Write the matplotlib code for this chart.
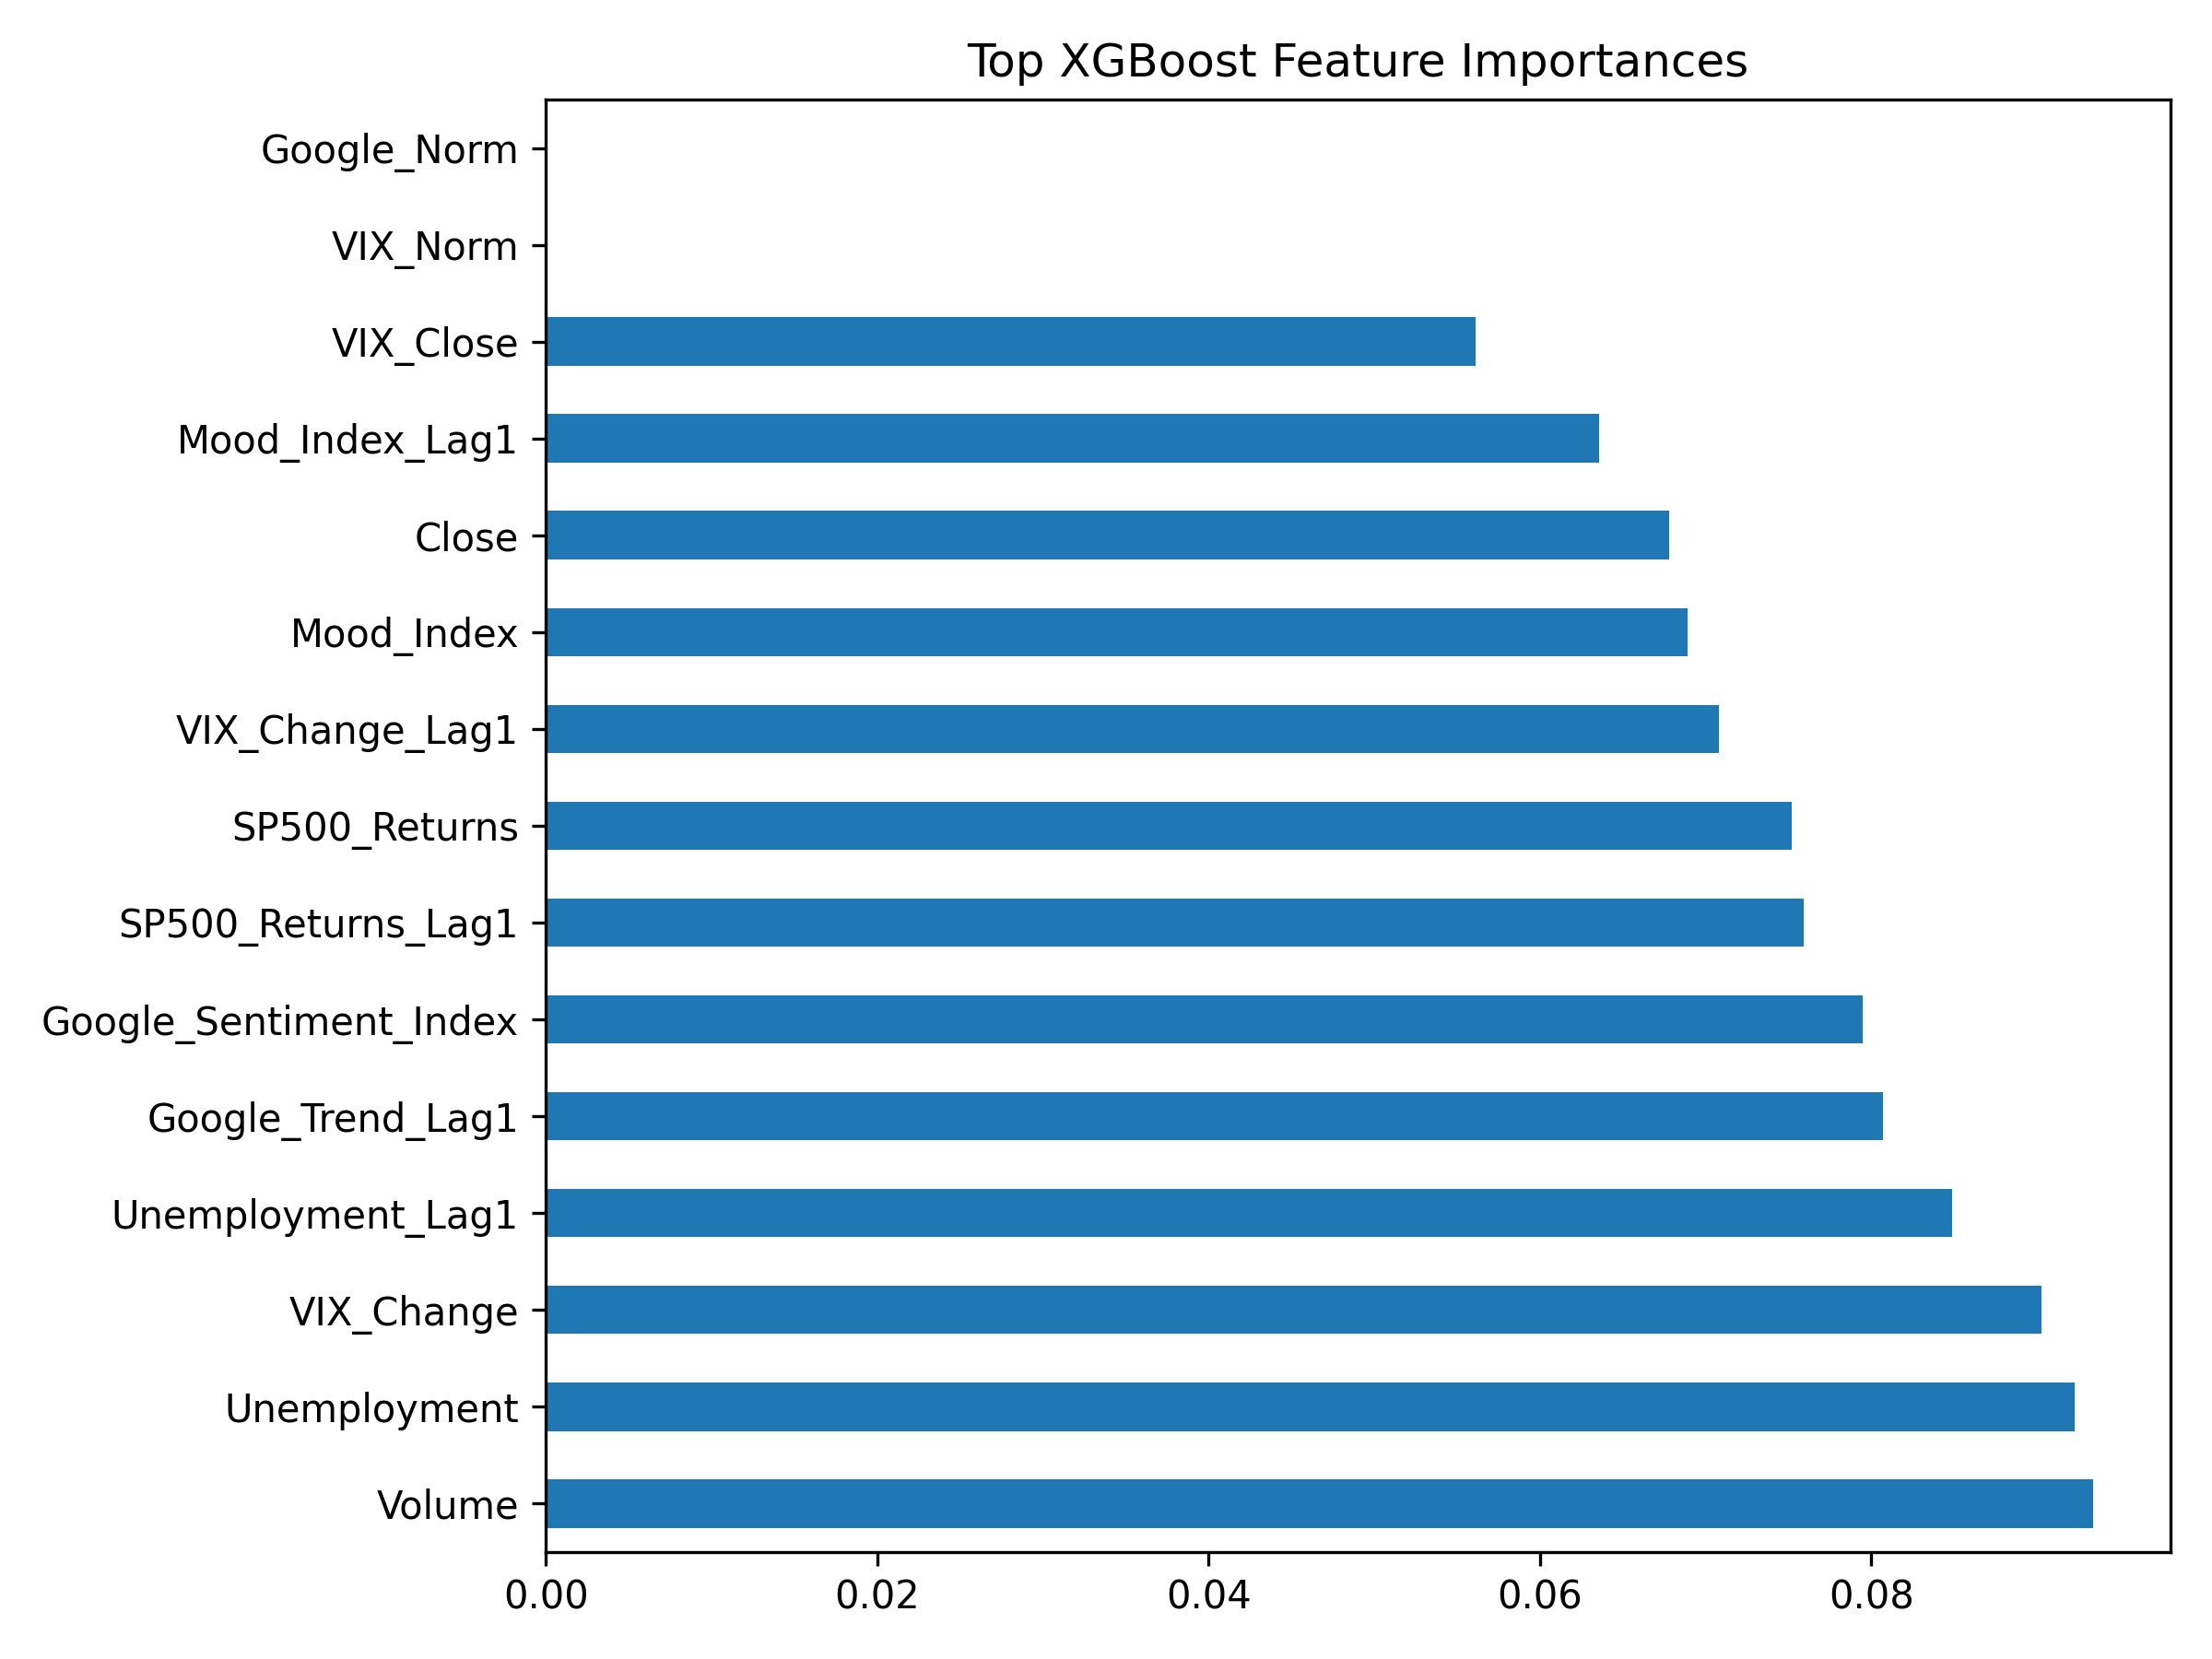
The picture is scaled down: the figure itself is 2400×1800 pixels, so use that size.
import matplotlib
matplotlib.use("Agg")
import matplotlib.pyplot as plt
import pandas as pd

# ── Data ────────────────────────────────────────────────────────────────────
features = [
    "Volume", "Unemployment", "VIX_Change", "Unemployment_Lag1",
    "Google_Trend_Lag1", "Google_Sentiment_Index", "SP500_Returns_Lag1",
    "SP500_Returns", "VIX_Change_Lag1", "Mood_Index", "Close",
    "Mood_Index_Lag1", "VIX_Close", "VIX_Norm", "Google_Norm",
]
importances = [
    0.0934, 0.0923, 0.0903, 0.0849,
    0.0807, 0.0795, 0.0759,
    0.0752, 0.0708, 0.0689, 0.0678,
    0.0636, 0.0561, 0.0, 0.0,
]

imp = pd.Series(importances, index=features)

fig, ax = plt.subplots(figsize=(8, 6), dpi=300)
imp.plot(kind="barh", ax=ax, color="#1f77b4")
ax.set_title("Top XGBoost Feature Importances")
fig.tight_layout()
fig.savefig("out.png")
plt.close(fig)
